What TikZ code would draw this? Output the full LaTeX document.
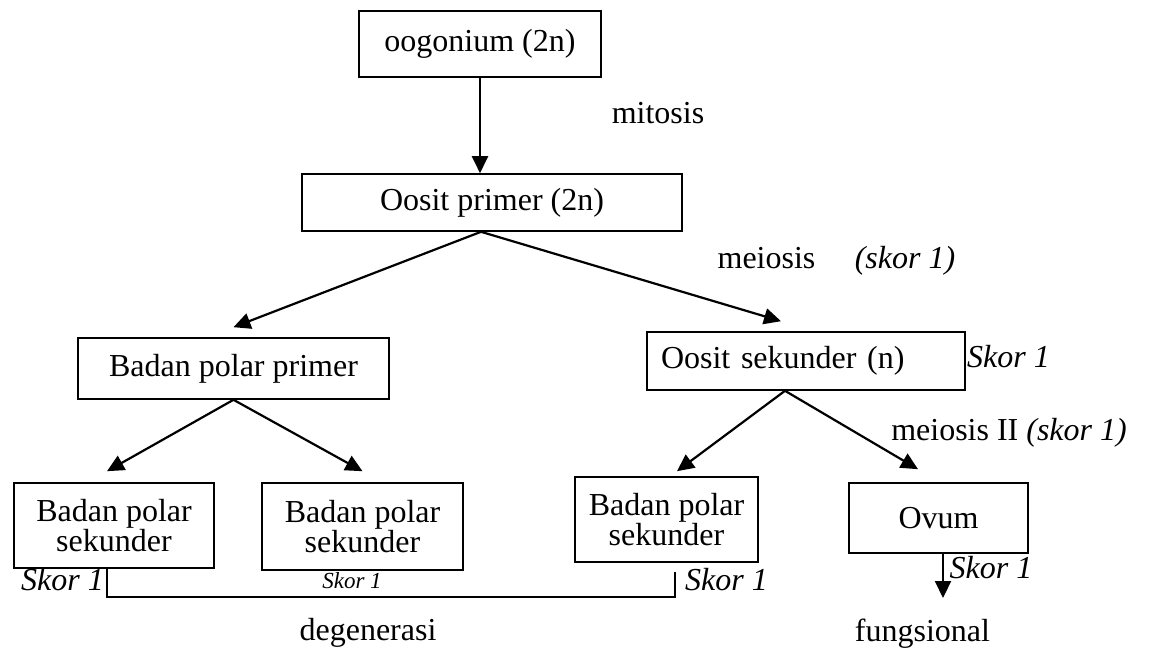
\documentclass[tikz,border=0pt]{standalone}
\usepackage{fontspec}
\setmainfont{Liberation Serif}
\usetikzlibrary{arrows.meta}
\begin{document}
\begin{tikzpicture}[x=1pt,y=-1pt,
  base font/.style={font=\fontsize{32}{30}\selectfont},
  cell/.style={base font, draw, line width=1.6pt, inner sep=0pt, align=center},
  link/.style={line width=2.2pt, -{Triangle[length=17pt,width=16pt]}},
  word/.style={base font, inner sep=0pt, anchor=base},
  score/.style={word, font=\fontsize{32}{30}\selectfont\itshape},
  tiny score/.style={word, font=\fontsize{23}{26}\selectfont\itshape},
  bracket/.style={line width=1.5pt}]
\useasboundingbox (0,0) rectangle (1170,650);

% stages of oogenesis
\node[cell, minimum width=242pt, minimum height=66pt] (oog) at (480,44) {oogonium (2n)};
\node[cell, minimum width=380pt, minimum height=57pt] (prim) at (492,202.5) {Oosit primer (2n)};
\node[cell, minimum width=311pt, minimum height=61pt] (bpp) at (233.5,368.5) {Badan polar primer};
\node[cell, text width=290pt, inner xsep=14pt, align=left, minimum height=58pt] (osek) at (806,361) {Oosit sekunder (n)};
\node[cell, minimum width=200pt, minimum height=85pt] (b1) at (114,525.5) {Badan polar\\sekunder};
\node[cell, minimum width=201pt, minimum height=87pt] (b2) at (362.5,526.5) {Badan polar\\sekunder};
\node[cell, minimum width=183pt, minimum height=85pt] (b3) at (666.5,519.5) {Badan polar\\sekunder};
\node[cell, minimum width=179pt, minimum height=70pt] (ovum) at (938.5,518) {Ovum};

% labels
\node[word] (mit) at (658,124) {mitosis};
\node[word] (mei) at (766.5,268) {meiosis};
\node[score] (s1) at (905,268) {(skor 1)};
\node[score] (s2) at (1008.5,367) {Skor 1};
\node[word] (mei2) at (1009,440) {meiosis II \textit{(skor 1)}};
\node[score] (s3) at (62.5,590) {Skor 1};
\node[tiny score] (s4) at (352,588) {Skor 1};
\node[score] (s5) at (726.5,590) {Skor 1};
\node[score] (s6) at (991,578) {Skor 1};
\node[word] (deg) at (368,640) {degenerasi};
\node[word] (fun) at (922.5,641) {fungsional};
\coordinate (fend) at (943,598);

% divisions
\draw[link] (oog.south) -- (oog.south |- prim.north);
\draw[link] ([xshift=-11pt]prim.south) -- ([yshift=10pt]bpp.north);
\draw[link] ([xshift=-11pt]prim.south) -- ([xshift=-25pt,yshift=10pt]osek.north);
\draw[link] (bpp.south) -- ([xshift=-7pt,yshift=11pt]b1.north);
\draw[link] (bpp.south) -- ([yshift=11pt]b2.north);
\draw[link] ([xshift=-21pt]osek.south) -- ([xshift=10.5pt,yshift=5pt]b3.north);
\draw[link] ([xshift=-21pt]osek.south) -- ([xshift=-20.5pt,yshift=13pt]ovum.north);
\draw[link] (ovum.south -| fend) -- (fend);

% polar bodies that degenerate
\draw[bracket] ([xshift=-7pt]b1.south) -- ++(0,28) -| ([xshift=8.5pt,yshift=-9pt]b3.south);
\end{tikzpicture}
\end{document}
